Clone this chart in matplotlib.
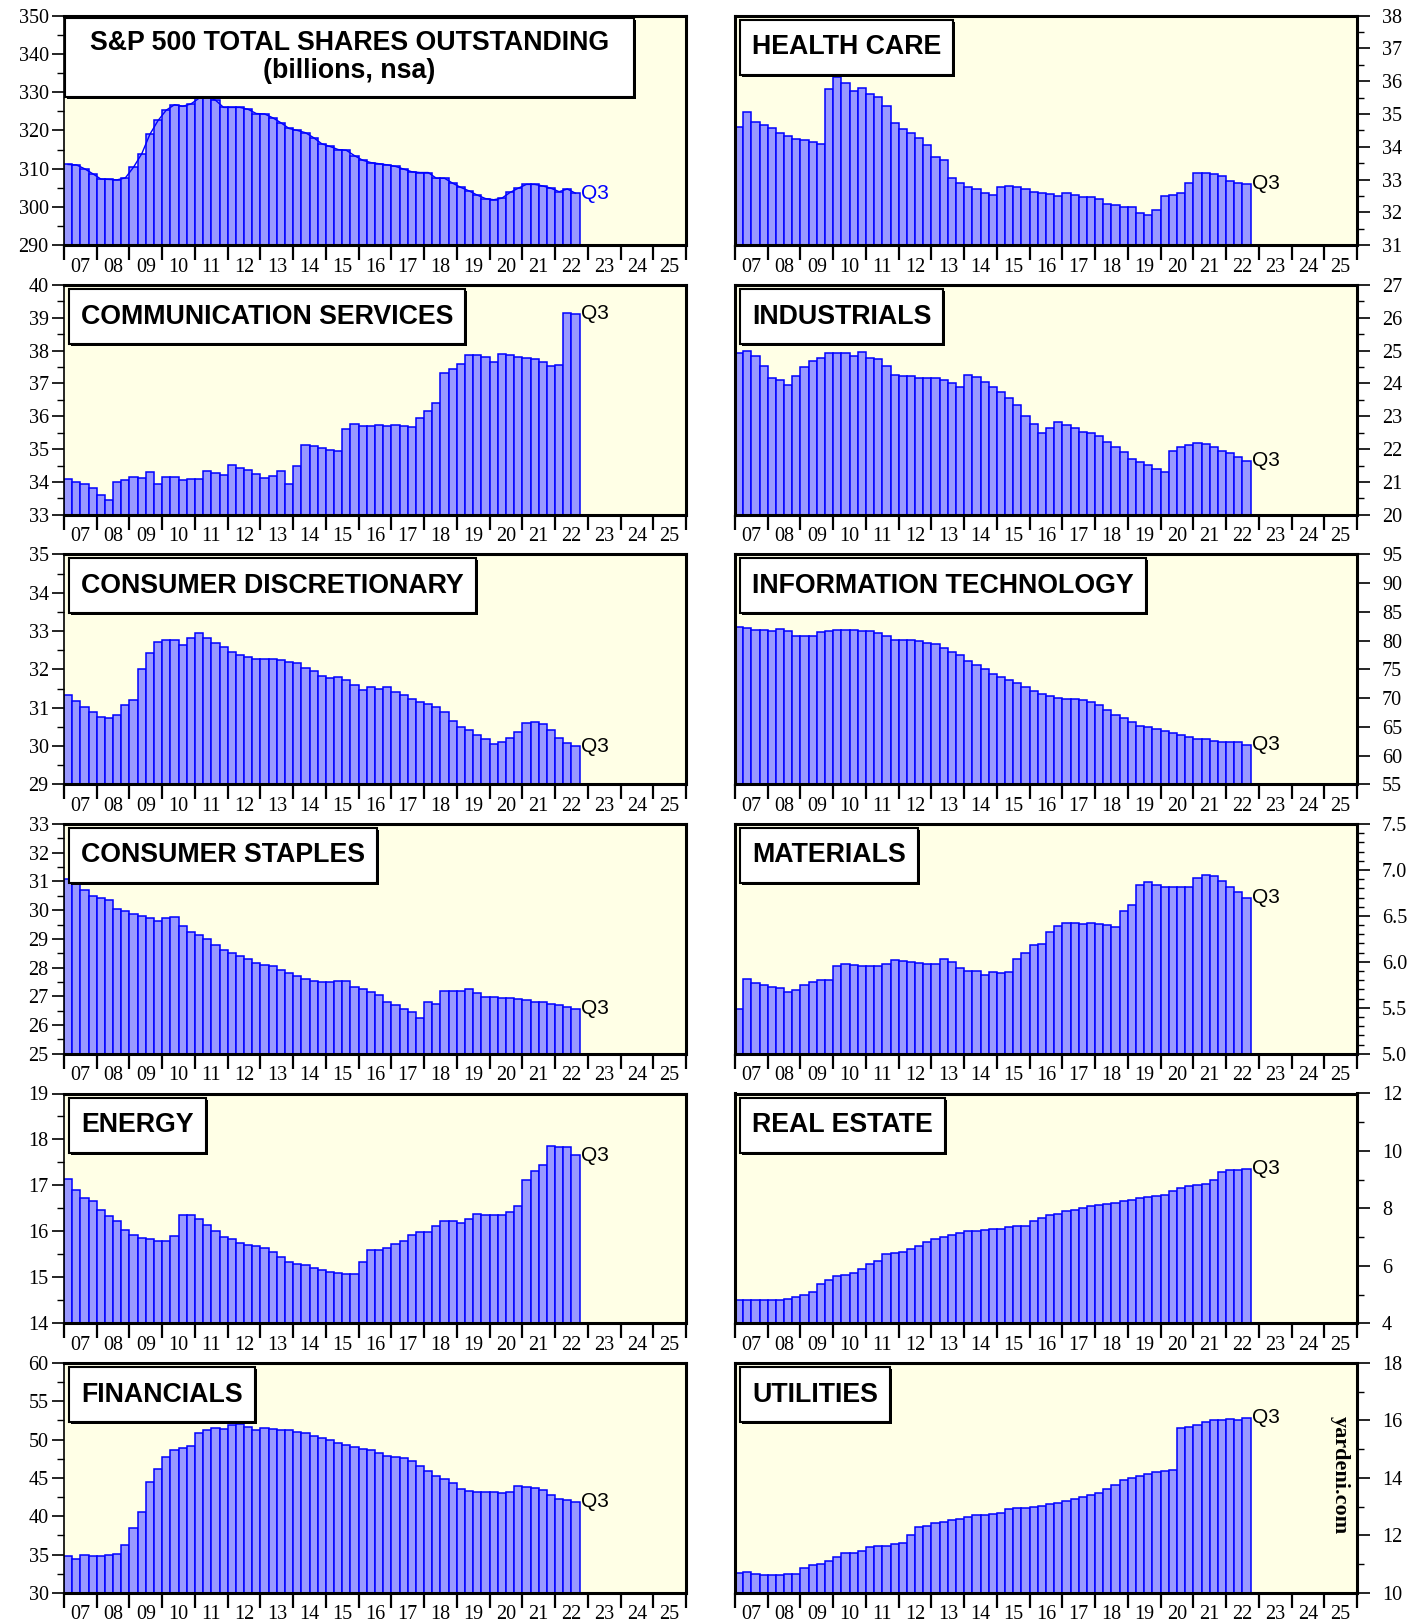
import numpy as np
import pandas as pd
import matplotlib
matplotlib.use('Agg')
import matplotlib.pyplot as plt
from matplotlib.patches import Rectangle
from matplotlib.transforms import IdentityTransform
from matplotlib.ticker import MultipleLocator, FixedLocator, NullFormatter, FormatStrFormatter

plt.rcParams['font.family'] = ['Liberation Serif', 'DejaVu Serif']

# quarterly data, 2007Q1 .. 2022Q3
quarters = pd.period_range('2007Q1', '2022Q3', freq='Q')
year_labels = ['%02d' % (y % 100) for y in range(2007, 2026)]

total = [311.1, 311.0, 310.0, 308.7, 307.3, 307.2, 307.1, 307.6,
         310.4, 313.9, 319.0, 322.6, 325.3, 326.7, 326.3, 326.9,
         328.4, 328.7, 327.9, 326.0, 326.0, 326.0, 325.5, 324.4,
         324.3, 323.3, 322.0, 320.5, 320.0, 319.4, 318.1, 316.5,
         315.8, 315.0, 314.8, 313.4, 312.2, 311.6, 311.3, 311.0,
         310.6, 309.9, 309.2, 309.0, 309.0, 307.5, 307.5, 306.2,
         305.1, 304.2, 303.1, 302.2, 301.9, 302.3, 303.8, 304.9,
         305.9, 305.9, 305.5, 304.9, 304.0, 304.7, 303.6]

health = [34.60, 35.07, 34.75, 34.65, 34.57, 34.41, 34.33, 34.25,
          34.21, 34.16, 34.10, 35.77, 36.13, 35.95, 35.71, 35.80,
          35.60, 35.52, 35.24, 34.72, 34.55, 34.42, 34.28, 34.06,
          33.68, 33.61, 33.06, 32.89, 32.79, 32.71, 32.58, 32.52,
          32.78, 32.80, 32.79, 32.73, 32.62, 32.59, 32.57, 32.51,
          32.59, 32.52, 32.48, 32.46, 32.42, 32.26, 32.22, 32.16,
          32.16, 31.98, 31.91, 32.07, 32.49, 32.54, 32.59, 32.89,
          33.21, 33.21, 33.16, 33.11, 32.97, 32.91, 32.87]

comm = [34.08, 34.00, 33.93, 33.81, 33.59, 33.44, 33.99, 34.06,
        34.16, 34.13, 34.30, 33.94, 34.14, 34.14, 34.07, 34.08,
        34.08, 34.32, 34.27, 34.20, 34.53, 34.44, 34.37, 34.24,
        34.11, 34.19, 34.32, 33.93, 34.48, 35.14, 35.09, 35.04,
        34.96, 34.93, 35.60, 35.78, 35.71, 35.71, 35.74, 35.72,
        35.73, 35.71, 35.67, 35.96, 36.16, 36.41, 37.33, 37.44,
        37.59, 37.88, 37.87, 37.81, 37.65, 37.90, 37.87, 37.80,
        37.78, 37.76, 37.65, 37.53, 37.56, 39.16, 39.12]

industrials = [24.92, 25.00, 24.85, 24.54, 24.18, 24.11, 23.96, 24.24,
               24.51, 24.70, 24.78, 24.92, 24.92, 24.92, 24.83, 24.95,
               24.77, 24.74, 24.52, 24.26, 24.23, 24.22, 24.17, 24.17,
               24.17, 24.11, 24.01, 23.90, 24.26, 24.20, 24.05, 23.89,
               23.74, 23.57, 23.35, 23.01, 22.77, 22.50, 22.65, 22.82,
               22.74, 22.65, 22.51, 22.49, 22.41, 22.22, 22.07, 21.91,
               21.70, 21.61, 21.52, 21.40, 21.30, 21.93, 22.07, 22.13,
               22.19, 22.16, 22.07, 21.95, 21.89, 21.76, 21.64]

cons_disc = [31.33, 31.17, 31.03, 30.89, 30.75, 30.72, 30.80, 31.06,
             31.19, 32.00, 32.43, 32.72, 32.78, 32.78, 32.64, 32.83,
             32.94, 32.81, 32.68, 32.58, 32.46, 32.38, 32.32, 32.27,
             32.27, 32.27, 32.25, 32.19, 32.16, 32.04, 31.95, 31.82,
             31.77, 31.80, 31.72, 31.59, 31.47, 31.55, 31.48, 31.53,
             31.40, 31.33, 31.24, 31.14, 31.10, 31.03, 30.88, 30.64,
             30.50, 30.42, 30.30, 30.19, 30.06, 30.11, 30.21, 30.37,
             30.61, 30.63, 30.57, 30.42, 30.22, 30.07, 30.00]

info_tech = [82.4, 82.2, 81.9, 81.9, 81.6, 82.1, 81.6, 80.9,
             80.8, 80.9, 81.5, 81.6, 81.9, 81.9, 81.8, 81.7,
             81.6, 81.3, 80.9, 80.1, 80.1, 80.1, 79.9, 79.6,
             79.4, 78.8, 78.1, 77.5, 76.5, 75.8, 75.1, 74.2,
             73.7, 73.2, 72.7, 72.0, 71.2, 70.7, 70.3, 70.1,
             69.9, 69.9, 69.6, 69.4, 68.8, 67.9, 67.1, 66.5,
             65.8, 65.1, 64.9, 64.6, 64.2, 63.9, 63.5, 63.2,
             62.9, 62.8, 62.6, 62.4, 62.3, 62.3, 61.9]

cons_staples = [31.07, 30.93, 30.69, 30.50, 30.41, 30.36, 30.05, 29.98,
                29.88, 29.81, 29.73, 29.62, 29.72, 29.77, 29.46, 29.25,
                29.12, 28.98, 28.80, 28.62, 28.52, 28.40, 28.30, 28.17,
                28.09, 28.07, 27.93, 27.81, 27.71, 27.62, 27.55, 27.49,
                27.49, 27.52, 27.53, 27.34, 27.25, 27.15, 27.05, 26.82,
                26.69, 26.57, 26.44, 26.26, 26.82, 26.73, 27.19, 27.19,
                27.19, 27.27, 27.12, 26.99, 26.97, 26.95, 26.95, 26.92,
                26.86, 26.79, 26.79, 26.74, 26.70, 26.63, 26.57]

materials = [5.49, 5.81, 5.77, 5.75, 5.73, 5.72, 5.67, 5.69,
             5.75, 5.78, 5.80, 5.80, 5.95, 5.98, 5.97, 5.95,
             5.96, 5.96, 5.98, 6.02, 6.01, 6.00, 5.99, 5.98,
             5.98, 6.03, 6.00, 5.93, 5.90, 5.90, 5.86, 5.89,
             5.88, 5.89, 6.03, 6.10, 6.18, 6.19, 6.32, 6.39,
             6.42, 6.42, 6.41, 6.42, 6.41, 6.40, 6.38, 6.55,
             6.62, 6.84, 6.87, 6.84, 6.82, 6.81, 6.81, 6.81,
             6.91, 6.95, 6.93, 6.88, 6.82, 6.76, 6.70]

energy = [17.13, 16.89, 16.73, 16.66, 16.47, 16.33, 16.22, 16.02,
          15.92, 15.85, 15.83, 15.79, 15.80, 15.89, 16.36, 16.35,
          16.27, 16.13, 16.00, 15.88, 15.84, 15.75, 15.71, 15.68,
          15.64, 15.55, 15.44, 15.34, 15.28, 15.27, 15.20, 15.15,
          15.12, 15.10, 15.08, 15.08, 15.33, 15.60, 15.60, 15.63,
          15.72, 15.78, 15.92, 15.98, 15.99, 16.11, 16.22, 16.22,
          16.18, 16.26, 16.38, 16.36, 16.35, 16.35, 16.42, 16.55,
          17.11, 17.31, 17.44, 17.85, 17.84, 17.83, 17.66]

real_estate = [4.82, 4.82, 4.82, 4.82, 4.80, 4.80, 4.85, 4.92,
               5.00, 5.10, 5.38, 5.52, 5.65, 5.68, 5.75, 5.88,
               6.05, 6.18, 6.42, 6.45, 6.48, 6.58, 6.68, 6.82,
               6.95, 7.02, 7.08, 7.15, 7.20, 7.22, 7.25, 7.28,
               7.30, 7.35, 7.38, 7.40, 7.55, 7.65, 7.78, 7.82,
               7.90, 7.95, 8.02, 8.08, 8.12, 8.15, 8.20, 8.25,
               8.30, 8.35, 8.38, 8.42, 8.45, 8.62, 8.72, 8.78,
               8.82, 8.86, 9.00, 9.25, 9.33, 9.35, 9.38]

financials = [34.80, 34.45, 34.95, 34.75, 34.75, 34.95, 35.10, 36.20,
              38.50, 40.60, 44.50, 46.20, 47.70, 48.60, 48.90, 49.20,
              50.90, 51.30, 51.50, 51.40, 51.90, 52.00, 51.60, 51.30,
              51.50, 51.40, 51.30, 51.20, 51.00, 50.80, 50.50, 50.20,
              49.90, 49.60, 49.30, 49.00, 48.80, 48.60, 48.20, 47.80,
              47.70, 47.60, 47.20, 46.60, 45.90, 45.30, 44.90, 44.30,
              43.60, 43.30, 43.10, 43.20, 43.20, 43.00, 43.10, 43.90,
              43.80, 43.70, 43.40, 42.80, 42.30, 42.10, 41.90]

utilities = [10.70, 10.72, 10.66, 10.61, 10.61, 10.63, 10.66, 10.67,
             10.88, 10.96, 11.02, 11.10, 11.23, 11.37, 11.38, 11.47,
             11.60, 11.63, 11.63, 11.71, 11.72, 12.00, 12.30, 12.32,
             12.44, 12.48, 12.54, 12.57, 12.63, 12.71, 12.71, 12.75,
             12.77, 12.91, 12.94, 12.95, 13.00, 13.03, 13.08, 13.14,
             13.18, 13.26, 13.32, 13.39, 13.48, 13.61, 13.75, 13.94,
             14.00, 14.05, 14.15, 14.20, 14.23, 14.26, 15.74, 15.78,
             15.85, 15.95, 16.00, 16.02, 16.04, 16.02, 16.10]

# (title, values, ymin, ymax, major step, minor step, tick format)
panels = [
    ('S&P 500 TOTAL SHARES OUTSTANDING\n(billions, nsa)', total, 290, 350, 10, 5, '%d'),
    ('HEALTH CARE', health, 31, 38, 1, 0.5, '%d'),
    ('COMMUNICATION SERVICES', comm, 33, 40, 1, 0.5, '%d'),
    ('INDUSTRIALS', industrials, 20, 27, 1, 0.5, '%d'),
    ('CONSUMER DISCRETIONARY', cons_disc, 29, 35, 1, 0.5, '%d'),
    ('INFORMATION TECHNOLOGY', info_tech, 55, 95, 5, None, '%d'),
    ('CONSUMER STAPLES', cons_staples, 25, 33, 1, 0.5, '%d'),
    ('MATERIALS', materials, 5.0, 7.5, 0.5, 0.1, '%.1f'),
    ('ENERGY', energy, 14, 19, 1, 0.5, '%d'),
    ('REAL ESTATE', real_estate, 4, 12, 2, 1, '%d'),
    ('FINANCIALS', financials, 30, 60, 5, 2.5, '%d'),
    ('UTILITIES', utilities, 10, 18, 2, 1, '%d'),
]

x_left = np.asarray(quarters.year + (quarters.quarter - 1) / 4.0, dtype=float)

W, H = 1424, 1623
fig = plt.figure(figsize=(W / 100, H / 100), dpi=100)

col_left = [64, 735]
col_width = 622
row_top0, row_pitch, row_h = 15.5, 269.5, 229.8

boxes = []  # (axes, text, mode, pad or width, box height, gap to top)

for i, (title, vals, ymin, ymax, major, minor, fmt) in enumerate(panels):
    row, col = divmod(i, 2)
    top_px = row_top0 + row * row_pitch
    ax = fig.add_axes([col_left[col] / W, 1 - (top_px + row_h) / H,
                       col_width / W, row_h / H])
    ax.set_facecolor('#FFFFE6')

    ax.bar(x_left, vals, width=0.25, align='edge', color='#9999FF',
           edgecolor='#0000FF', linewidth=1.1, zorder=2)
    if i == 0:
        ax.plot(x_left + 0.125, vals, color='#0000FF', lw=1.0, zorder=3)

    ax.set_xlim(2007, 2026)
    ax.set_ylim(ymin, ymax)

    # x axis: ticks at year boundaries, labels in the middle of each year
    ax.xaxis.set_major_locator(FixedLocator(np.arange(2007, 2027)))
    ax.xaxis.set_major_formatter(NullFormatter())
    ax.xaxis.set_minor_locator(FixedLocator(np.arange(2007, 2026) + 0.5))
    ax.set_xticklabels(year_labels, minor=True)
    ax.tick_params(axis='x', which='major', direction='out', length=11, width=1.6)
    ax.tick_params(axis='x', which='minor', length=0, pad=9, labelsize=14.5)

    # y axis
    ax.yaxis.set_major_locator(MultipleLocator(major))
    ax.yaxis.set_major_formatter(FormatStrFormatter(fmt))
    if minor:
        ax.yaxis.set_minor_locator(MultipleLocator(minor))
    else:
        ax.yaxis.set_minor_locator(FixedLocator([]))
    if col == 1:
        ax.yaxis.tick_right()
    ax.tick_params(axis='y', which='major', direction='out', length=9, width=1.2,
                   labelsize=14.5, pad=2 if col == 0 else 9)
    ax.tick_params(axis='y', which='minor', direction='out', length=5, width=1.0)

    for name, sp in ax.spines.items():
        sp.set_linewidth(2.2)
        sp.set_zorder(4)
    if col == 0:
        ax.spines['left'].set_linewidth(1.2)

    # title text (box drawn after layout is known)
    if i == 0:
        t = ax.annotate(title, xy=(0.459, 1), xycoords='axes fraction',
                        xytext=(0, -14), textcoords='offset pixels',
                        ha='center', va='top', multialignment='center',
                        fontsize=19.3, fontweight='bold', family='Liberation Sans',
                        linespacing=1.08, zorder=6)
        boxes.append((ax, t, 'center', 569, 79, 2))
    else:
        t = ax.annotate(title, xy=(0, 1), xycoords='axes fraction',
                        xytext=(17, -17), textcoords='offset pixels',
                        ha='left', va='top', fontsize=19.3, fontweight='bold',
                        family='Liberation Sans', zorder=6)
        boxes.append((ax, t, 'left', 12, 55, 4))

    ax.text(x_left[-1] + 0.3, vals[-1], 'Q3', ha='left', va='center',
            fontsize=15, family='Liberation Sans',
            color='#0000FF' if i == 0 else 'black', zorder=5)

    if title == 'UTILITIES':
        ax.text(0.972, 0.51, 'yardeni.com', rotation=-90, transform=ax.transAxes,
                ha='center', va='center', fontsize=16, fontweight='bold',
                family='Liberation Serif')

# white label boxes with a small shadow, sized around the text
fig.canvas.draw()
renderer = fig.canvas.get_renderer()
for ax, t, mode, size_x, box_h, gap_top in boxes:
    bb = t.get_window_extent(renderer)
    axbb = ax.get_window_extent(renderer)
    if mode == 'center':
        w = size_x
        x0 = bb.x0 + bb.width / 2 - w / 2
    else:
        w = bb.width + 2 * size_x
        x0 = bb.x0 - size_x
    y1 = axbb.y1 - gap_top
    y0 = y1 - box_h
    # recentre text vertically inside the box
    shift = (y0 + box_h / 2) - (bb.y0 + bb.height / 2)
    t.xyann = (t.xyann[0], t.xyann[1] + shift)
    shadow = Rectangle((x0 + 2, y0 - 2), w, box_h, transform=IdentityTransform(),
                       fc='black', ec='black', lw=0, zorder=4.8, clip_on=False)
    box = Rectangle((x0, y0), w, box_h, transform=IdentityTransform(),
                    fc='white', ec='black', lw=1.5, zorder=5, clip_on=False)
    ax.add_artist(shadow)
    ax.add_artist(box)

fig.savefig('out.png', dpi=100)
